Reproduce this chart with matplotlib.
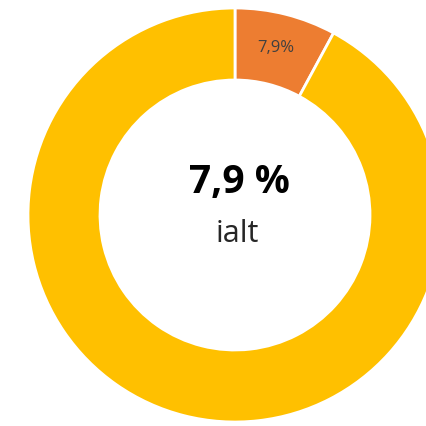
import matplotlib.pyplot as plt

# Data
labels = ['Andel', 'Rest']
values = [7.9, 92.1]
colors = ['#ED7D31', '#FFC000']
total_label = '7,9 %'
sub_label = 'ialt'

fig = plt.figure(figsize=(4.26, 4.26), dpi=100)
ax = fig.add_axes([0, 0, 1, 1])

# Donut chart
wedges, _ = ax.pie(values, colors=colors, startangle=90, counterclock=False,
                   center=(235, 211), radius=207, frame=True,
                   wedgeprops=dict(width=72, edgecolor='white', linewidth=2))
ax.set_xlim(0, 426)
ax.set_ylim(0, 426)
ax.set_aspect('equal')
ax.axis('off')

# label on the small slice
ax.text(276, 426 - 48, '7,9%', ha='center', va='center', fontsize=12,
        color='#404040', family='Open Sans')

# centre text
ax.text(239, 426 - 193, total_label, ha='center', va='baseline', fontsize=28,
        fontweight='bold', color='black', family='Open Sans')
ax.text(237, 426 - 242, sub_label, ha='center', va='baseline', fontsize=22,
        color='#262626', family='Open Sans')

plt.savefig('out.png', dpi=100)
